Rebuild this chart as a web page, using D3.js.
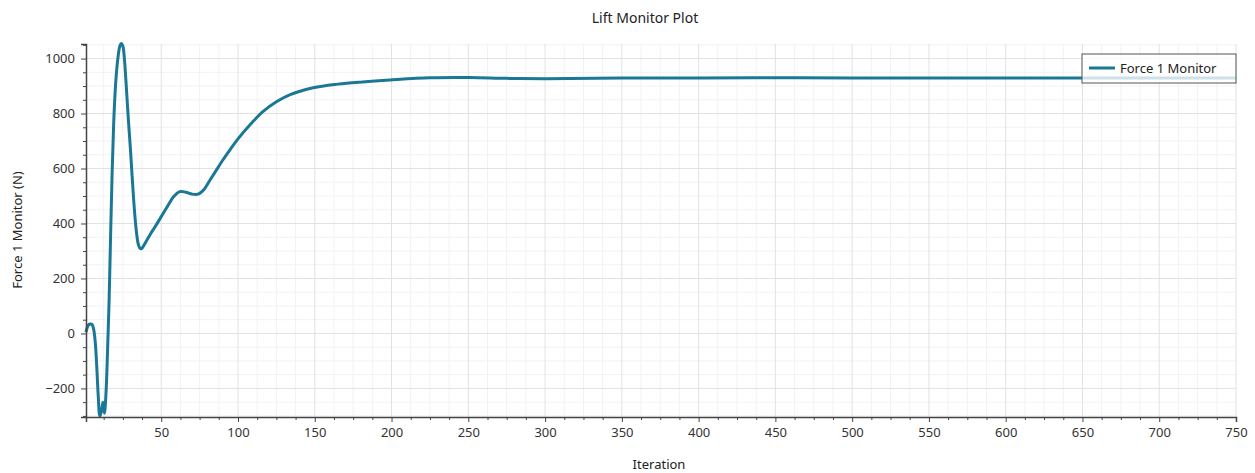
<!DOCTYPE html>
<html>
<head>
<meta charset="utf-8">
<script src="https://cdn.jsdelivr.net/npm/d3@7"></script>
<style>
  body { margin: 0; background: #fff; }
  svg { font-family: "Noto Sans", "Open Sans", sans-serif; }
</style>
</head>
<body>
<div id="chart"></div>
<script>
const iterations = [1, 2, 3, 4, 5, 6, 7, 8, 9, 10, 11, 12, 13, 14, 15, 16, 17, 18, 19, 20,
  21, 22, 23, 24, 25, 26, 27, 28, 29, 30, 31, 32, 33, 34, 35, 36, 37, 38, 40, 43,
  46, 50, 54, 58, 62, 66, 70, 74, 78, 82, 86, 90, 95, 100, 108, 116, 125, 134, 149, 165,
  181, 199, 225, 251, 275, 300, 350, 400, 450, 500, 550, 600, 650, 700, 750];
const forceValues = [5, 25, 33, 34, 32, 15, -30, -120, -230, -300, -285, -250, -290, -220, -70, 110, 350, 580, 760, 880,
  960, 1012, 1045, 1055, 1046, 1000, 920, 830, 745, 665, 575, 490, 418, 362, 326, 311, 308, 314, 333, 362,
  388, 425, 462, 497, 516, 514, 507, 507, 525, 560, 595, 630, 670, 708, 760, 806, 843, 869, 894, 907,
  915, 922, 930, 931, 928, 927, 929, 929, 930, 929, 929, 929, 929, 929, 929];
const xTicks = [50, 100, 150, 200, 250, 300, 350, 400, 450, 500, 550, 600, 650, 700, 750];
const yTicks = [-200, 0, 200, 400, 600, 800, 1000];
const seriesName = "Force 1 Monitor";

const data = iterations.map((d, i) => ({ it: d, v: forceValues[i] }));

const W = 1255, H = 473;
const lineColor = "#1a7896";

const svg = d3.select("#chart").append("svg")
  .attr("width", W)
  .attr("height", H);

const x = d3.scaleLinear().domain([1, 750]).range([86, 1236]);
const y = d3.scaleLinear().domain([-304, 1053]).range([417, 44]);

// minor grid
const xMinor = d3.range(12.5, 750, 12.5).filter(d => d % 50 !== 0);
const yMinor = d3.range(-300, 1051, 50).filter(d => d % 200 !== 0);

svg.append("g").selectAll("line")
  .data(xMinor).enter().append("line")
  .attr("x1", d => x(d)).attr("x2", d => x(d))
  .attr("y1", 44).attr("y2", 417)
  .attr("stroke", "#f2f2f2");
svg.append("g").selectAll("line")
  .data(yMinor).enter().append("line")
  .attr("x1", 86).attr("x2", 1236)
  .attr("y1", d => y(d)).attr("y2", d => y(d))
  .attr("stroke", "#f2f2f2");

// major grid
svg.append("g").selectAll("line")
  .data(xTicks).enter().append("line")
  .attr("x1", d => x(d)).attr("x2", d => x(d))
  .attr("y1", 44).attr("y2", 417)
  .attr("stroke", "#e2e2e2");
svg.append("g").selectAll("line")
  .data(yTicks).enter().append("line")
  .attr("x1", 86).attr("x2", 1236)
  .attr("y1", d => y(d)).attr("y2", d => y(d))
  .attr("stroke", "#e2e2e2");

// the series
const line = d3.line()
  .x(d => x(d.it))
  .y(d => y(d.v))
  .curve(d3.curveCatmullRom.alpha(0.5));

svg.append("path")
  .datum(data)
  .attr("fill", "none")
  .attr("stroke", lineColor)
  .attr("stroke-width", 3)
  .attr("stroke-linejoin", "round")
  .attr("d", line);

// axes
svg.append("g")
  .attr("transform", "translate(0,417)")
  .call(d3.axisBottom(x).tickValues(xTicks).tickSize(5).tickPadding(6).tickFormat(d3.format("d")));
svg.append("g")
  .attr("transform", "translate(0,417)")
  .call(d3.axisBottom(x).tickValues(xMinor).tickSize(3).tickFormat(""))
  .call(g => g.select(".domain").remove());

svg.append("g")
  .attr("transform", "translate(86,0)")
  .call(d3.axisLeft(y).tickValues(yTicks).tickSize(5).tickPadding(6).tickFormat(d3.format("d")));
svg.append("g")
  .attr("transform", "translate(86,0)")
  .call(d3.axisLeft(y).tickValues(yMinor).tickSize(3).tickFormat(""))
  .call(g => g.select(".domain").remove());

svg.selectAll(".domain").attr("stroke", "#444").attr("stroke-width", 1.5);
svg.selectAll(".tick line").attr("stroke", "#444");
svg.selectAll(".tick text")
  .attr("fill", "#333")
  .style("font-size", "13px")
  .style("font-family", "'Noto Sans', 'Open Sans', sans-serif");

// labels
svg.append("text")
  .attr("x", 645).attr("y", 23)
  .attr("text-anchor", "middle")
  .attr("fill", "#222")
  .style("font-size", "14px")
  .text("Lift Monitor Plot");

svg.append("text")
  .attr("x", 659).attr("y", 469)
  .attr("text-anchor", "middle")
  .attr("fill", "#222")
  .style("font-size", "13px")
  .text("Iteration");

svg.append("text")
  .attr("transform", "rotate(-90)")
  .attr("x", -230).attr("y", 22)
  .attr("text-anchor", "middle")
  .attr("fill", "#222")
  .style("font-size", "13px")
  .text("Force 1 Monitor (N)");

// legend
const legend = svg.append("g").attr("transform", "translate(1082,54)");
legend.append("rect")
  .attr("width", 154).attr("height", 29)
  .attr("fill", "#fff").attr("fill-opacity", 0.78)
  .attr("stroke", "#555").attr("stroke-width", 1);
legend.append("line")
  .attr("x1", 7).attr("x2", 33)
  .attr("y1", 14).attr("y2", 14)
  .attr("stroke", lineColor).attr("stroke-width", 3);
legend.append("text")
  .attr("x", 38).attr("y", 19)
  .attr("fill", "#222")
  .style("font-size", "13px")
  .text(seriesName);
</script>
</body>
</html>
